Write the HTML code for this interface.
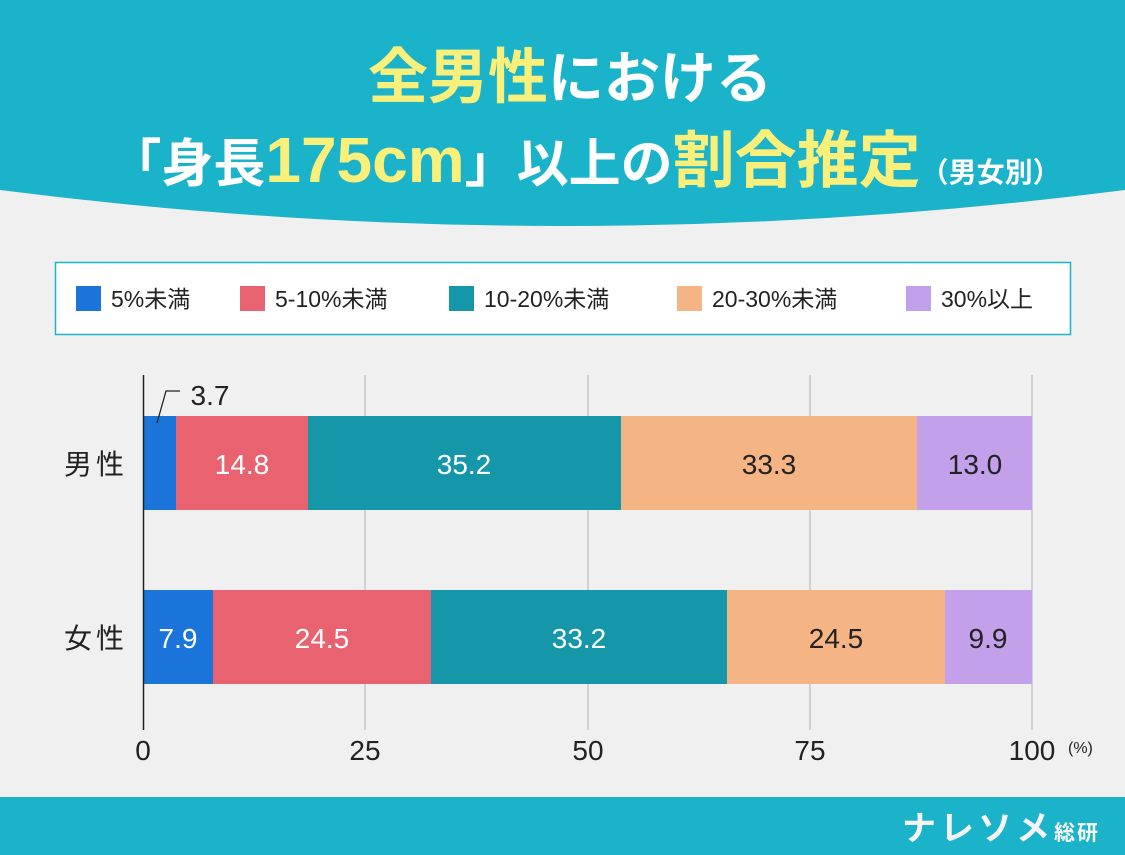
<!DOCTYPE html>
<html><head><meta charset="utf-8"><style>
body{margin:0;background:#f0f0f0;}
svg{display:block}
text{font-family:"Liberation Sans","Noto Sans CJK JP",sans-serif;}
</style></head><body>
<svg width="1125" height="855" viewBox="0 0 1125 855" xmlns="http://www.w3.org/2000/svg">
<rect width="1125" height="855" fill="#f0f0f0"/>
<path d="M0 0H1125V190Q562 262 0 190Z" fill="#1bb3c9"/>
<g font-weight="bold" text-anchor="middle">
<text x="570" y="98" font-size="56" fill="#fff"><tspan fill="#f8f07a" font-size="60">全男性</tspan>における</text>
<text x="585" y="182" font-size="52" fill="#fff">「身長<tspan fill="#f8f07a" font-size="64">175cm</tspan>」以上の<tspan fill="#f8f07a" font-size="62">割合推定</tspan><tspan font-size="28">（男女別）</tspan></text>
</g>
<rect x="55.5" y="262.5" width="1015" height="72" fill="#fff" stroke="#1bb3c9" stroke-width="1.5"/>
<g font-size="23" fill="#222">
<rect x="76" y="286" width="25" height="25" fill="#1a74d9"/><text x="111" y="307">5%未満</text>
<rect x="240" y="286" width="25" height="25" fill="#e8636f"/><text x="275" y="307">5-10%未満</text>
<rect x="449" y="286" width="25" height="25" fill="#1597a9"/><text x="484" y="307">10-20%未満</text>
<rect x="677" y="286" width="25" height="25" fill="#f5b483"/><text x="712" y="307">20-30%未満</text>
<rect x="906" y="286" width="25" height="25" fill="#c2a0ea"/><text x="941" y="307">30%以上</text>
</g>
<g stroke="#bbb" stroke-width="1.2">
<line x1="365" y1="375" x2="365" y2="730"/><line x1="588" y1="375" x2="588" y2="730"/><line x1="810" y1="375" x2="810" y2="730"/><line x1="1032" y1="375" x2="1032" y2="730"/>
</g>
<g>
<rect x="143" y="416" width="33" height="94" fill="#1a74d9"/>
<rect x="176" y="416" width="132" height="94" fill="#e8636f"/>
<rect x="308" y="416" width="313" height="94" fill="#1597a9"/>
<rect x="621" y="416" width="296" height="94" fill="#f5b483"/>
<rect x="917" y="416" width="115" height="94" fill="#c2a0ea"/>
<rect x="143" y="590" width="70" height="94" fill="#1a74d9"/>
<rect x="213" y="590" width="218" height="94" fill="#e8636f"/>
<rect x="431" y="590" width="296" height="94" fill="#1597a9"/>
<rect x="727" y="590" width="218" height="94" fill="#f5b483"/>
<rect x="945" y="590" width="87" height="94" fill="#c2a0ea"/>
</g>
<line x1="143.5" y1="375" x2="143.5" y2="730" stroke="#222" stroke-width="1.5"/>
<path d="M157 423L166 391H180" fill="none" stroke="#222" stroke-width="1.3"/>
<g font-size="28" text-anchor="middle">
<text x="210" y="405" fill="#222">3.7</text>
<text x="242" y="474" fill="#fff">14.8</text>
<text x="464" y="474" fill="#fff">35.2</text>
<text x="769" y="474" fill="#222">33.3</text>
<text x="975" y="474" fill="#222">13.0</text>
<text x="178" y="648" fill="#fff">7.9</text>
<text x="322" y="648" fill="#fff">24.5</text>
<text x="579" y="648" fill="#fff">33.2</text>
<text x="836" y="648" fill="#222">24.5</text>
<text x="988" y="648" fill="#222">9.9</text>
<text x="96" y="474" fill="#222" letter-spacing="4">男性</text>
<text x="96" y="648" fill="#222" letter-spacing="4">女性</text>
<text x="143" y="760" fill="#222">0</text>
<text x="365" y="760" fill="#222">25</text>
<text x="588" y="760" fill="#222">50</text>
<text x="810" y="760" fill="#222">75</text>
<text x="1032" y="760" fill="#222">100</text>
</g>
<text x="1068" y="753" font-size="16" fill="#222">(%)</text>
<rect x="0" y="797" width="1125" height="58" fill="#1bb3c9"/>
<text x="1100" y="840" font-size="34" font-weight="bold" fill="#f4f4f4" text-anchor="end" letter-spacing="4">ナレソメ<tspan font-size="21" letter-spacing="2">総研</tspan></text>
</svg>
</body></html>
